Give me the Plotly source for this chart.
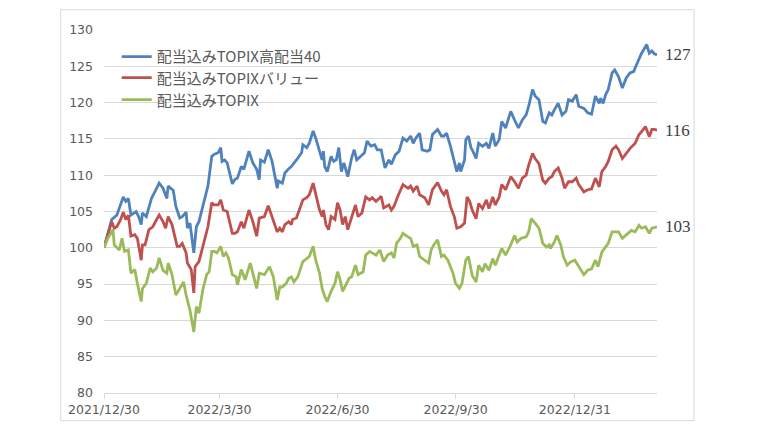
import plotly.graph_objects as go

# x = calendar days since 2021/12/30
tick_days = [0, 90, 182, 274, 367]
tick_labels = ["2021/12/30", "2022/3/30", "2022/6/30", "2022/9/30", "2022/12/31"]

series_names = ["配当込みTOPIX高配当40", "配当込みTOPIXバリュー", "配当込みTOPIX"]
series_colors = ["#4F81BD", "#C0504D", "#9BBB59"]

blue_days = [0,6,10,12,15,17,19,21,23,25,27,29,30,33,37,39,43,46,49,50,54,56,59,61,64,65,67,70,72,74,77,81,84,86,89,91,92,94,96,100,102,104,107,109,113,116,119,121,122,125,128,131,135,136,139,141,144,146,150,152,154,155,158,160,163,165,168,170,171,172,174,177,179,181,183,185,187,190,193,195,197,200,203,205,208,211,213,216,219,222,224,227,230,233,236,239,241,243,246,248,252,254,256,260,263,265,267,270,273,275,277,278,281,282,284,286,287,290,292,295,298,300,303,305,308,310,313,317,320,323,326,329,331,334,336,339,342,344,347,349,351,354,357,360,362,365,368,370,374,377,380,383,386,387,389,391,393,396,398,401,404,407,410,413,414,417,419,423,425,427,429,431]
blue_vals = [100,103.9,104.5,105.5,107.0,106.4,106.8,104.5,104.7,105.0,104.3,103.2,104.8,104.3,106.8,107.5,108.9,108.2,106.8,108.5,107.9,105.7,104.1,104.3,104.9,102.7,103.4,99.3,102.9,103.6,105.7,108.5,112.6,112.9,113.1,113.8,111.9,112.1,111.7,108.8,109.4,109.6,111.2,110.8,113.3,111.7,110.8,109.4,112.1,111.8,113.5,111.9,108.2,109.2,108.9,110.3,110.9,111.2,112.1,112.6,113.1,114.2,113.8,114.4,116.1,115.1,113.3,112.1,113.3,111.2,110.5,112.6,111.9,112.1,113.8,110.5,111.7,109.8,112.4,113.5,112.1,112.6,113.1,114.7,114.0,114.2,113.5,113.5,111.0,112.1,111.5,112.8,113.3,115.1,114.7,115.4,114.4,115.1,115.8,113.5,113.3,113.5,115.6,116.3,115.4,115.4,115.8,114.0,112.1,110.5,111.7,110.5,112.1,114.9,115.4,113.8,113.5,112.3,114.4,114.0,114.4,113.7,115.8,114.0,114.9,117.4,116.5,118.8,117.6,116.5,117.6,118.3,119.5,121.8,120.9,120.4,117.4,117.2,118.6,118.3,119.0,119.9,118.3,118.8,120.4,120.2,121.1,119.5,119.2,118.6,118.4,120.9,119.9,120.6,119.9,121.1,121.8,124.1,124.5,123.6,122.0,123.4,124.1,124.3,124.8,125.9,126.8,128.0,126.8,127.1,126.7,126.6]

red_days = [0,6,8,10,13,15,17,19,21,24,26,27,29,30,32,35,38,41,43,46,48,50,53,57,59,61,64,65,68,70,71,74,77,81,84,86,89,91,93,96,100,102,104,107,109,113,116,119,121,125,128,131,135,137,139,141,144,146,147,150,152,155,158,160,163,165,168,170,171,173,175,177,180,182,184,186,188,190,193,196,198,201,204,207,209,212,215,216,218,222,224,226,229,231,233,237,239,241,244,246,250,253,256,260,263,265,267,270,273,275,278,281,283,285,287,290,292,295,298,300,303,305,308,310,313,317,320,323,326,329,331,334,336,339,342,344,347,349,351,354,357,359,362,365,368,370,374,377,380,383,386,388,391,393,396,399,401,404,408,410,414,417,419,422,425,427,429,431]
red_vals = [100,103.6,102.7,102.9,103.9,104.9,103.9,104.5,101.6,101.8,101.3,100.1,98.3,100.4,100.4,102.5,102.9,103.9,104.5,103.6,102.7,104.3,103.2,100.2,100.2,100.6,99.3,97.9,97.0,93.8,97.4,98.1,100.1,102.9,106.2,105.9,105.9,106.6,105.2,105.0,102.0,102.0,102.2,103.6,102.7,105.2,103.6,101.6,104.1,104.3,105.8,104.3,102.2,102.7,102.2,103.2,103.6,103.2,103.9,104.1,105.0,106.6,106.9,107.3,108.9,107.5,105.2,104.3,105.2,103.2,102.5,104.3,103.9,106.2,105.2,103.2,104.3,102.5,104.3,105.9,104.3,104.8,107.0,106.6,106.9,106.4,106.9,107.1,105.5,105.9,105.2,105.7,107.1,107.8,108.7,108.2,108.5,107.8,108.5,107.3,106.9,105.9,108.0,109.0,107.8,107.3,108.0,105.7,104.3,102.7,102.9,103.4,107.0,106.4,105.2,104.0,106.1,105.4,106.6,105.4,107.0,105.9,107.0,108.7,108.0,109.8,109.1,108.2,109.6,110.0,111.4,113.0,112.3,111.6,109.3,108.9,109.6,109.8,110.5,111.0,109.6,108.2,109.1,109.1,109.6,108.7,107.7,108.0,108.1,109.6,108.4,110.5,111.2,111.9,113.5,114.0,113.5,112.3,113.3,113.7,114.4,115.6,116.0,116.7,115.3,116.3,116.3,116.2]

green_days = [0,3,7,8,12,14,16,19,21,24,26,29,30,33,36,38,41,43,46,49,50,53,56,59,62,64,67,70,72,74,77,80,82,84,86,88,91,93,95,97,100,103,104,107,110,114,117,119,121,125,129,132,135,137,139,141,142,144,146,148,151,155,158,160,163,165,168,170,172,174,177,180,182,184,186,189,191,193,196,198,202,204,207,209,212,215,218,221,224,226,228,231,233,236,239,241,244,246,250,253,255,257,260,263,265,268,272,274,277,279,282,284,287,290,292,295,297,300,303,305,308,310,313,317,320,322,325,329,331,333,336,339,342,345,347,348,351,353,356,358,361,364,367,370,374,377,380,383,385,388,391,393,396,399,401,404,408,411,414,417,419,422,425,427,431]
green_vals = [100,101.3,102.5,100.4,99.7,101.3,99.5,99.7,96.5,97.0,95.1,92.6,94.4,95.1,97.2,96.7,97.2,98.6,96.9,96.5,97.9,96.3,93.5,94.4,95.3,93.5,91.4,88.4,91.9,91.0,94.2,96.3,96.7,99.5,99.5,99.3,100.2,98.8,99.3,98.6,96.3,96.0,94.9,97.0,95.6,97.9,96.0,94.4,96.5,96.3,97.4,96.0,92.8,94.6,94.6,95.0,95.1,95.8,96.0,95.3,96.0,98.1,98.6,98.8,100.2,98.3,96.5,94.4,93.3,92.6,94.0,95.1,96.7,95.6,94.0,95.1,95.8,96.0,97.6,96.3,96.7,99.0,99.5,99.3,99.0,99.7,98.1,99.0,99.3,98.6,100.6,101.3,102.0,101.6,101.3,100.2,100.4,98.8,98.3,97.9,99.7,100.4,101.1,98.8,99.0,98.3,96.5,95.1,94.4,95.1,98.3,98.8,96.2,95.3,97.6,96.7,97.8,96.9,98.5,97.6,99.0,99.9,99.0,100.4,101.7,100.8,101.3,101.5,102.2,104.0,103.4,102.7,100.6,100.1,100.4,99.9,100.8,101.7,100.4,98.8,97.6,98.1,98.3,97.4,96.3,96.9,97.1,98.3,97.4,99.4,100.1,100.6,102.2,102.2,102.2,101.3,102.0,102.4,102.2,103.1,102.7,102.9,102.0,102.7,102.9]

all_days = [blue_days, red_days, green_days]
all_vals = [blue_vals, red_vals, green_vals]
for d, v in zip(all_days, all_vals):
    assert len(d) == len(v), (len(d), len(v))

legend_ids = ["legend", "legend2", "legend3"]
legend_tops = [0.9714, 0.9135, 0.8529]

fig = go.Figure()
for name, color, d, v, lid in zip(series_names, series_colors, all_days, all_vals, legend_ids):
    fig.add_trace(go.Scatter(x=d, y=v, mode="lines", name=name, legend=lid,
                             line=dict(color=color, width=2.8)))
    fig.add_annotation(x=d[-1], y=v[-1], text=f"{round(v[-1])}", showarrow=False,
                       xanchor="left", yanchor="middle", xshift=6,
                       font=dict(family="Liberation Serif", size=17, color="#404040"))

# outer chart border
fig.add_shape(type="rect", xref="paper", yref="paper",
              x0=-0.0783, x1=1.067, y0=-0.0763, y1=1.0559,
              line=dict(color="#D9D9D9", width=1), fillcolor="rgba(0,0,0,0)", layer="below")

legend_style = dict(x=0.023, xanchor="left", yanchor="top", bgcolor="rgba(0,0,0,0)",
                    font=dict(family="Noto Sans CJK JP", size=15, color="#595959"))

fig.update_layout(
    width=752, height=433,
    margin=dict(l=96, r=103, t=22, b=48),
    paper_bgcolor="white", plot_bgcolor="white",
    font=dict(family="DejaVu Sans", size=12.5, color="#595959"),
    showlegend=True,
    legend=dict(y=legend_tops[0], **legend_style),
    legend2=dict(y=legend_tops[1], **legend_style),
    legend3=dict(y=legend_tops[2], **legend_style),
    xaxis=dict(range=[0, 431], tickvals=tick_days, ticktext=tick_labels,
               showgrid=False, zeroline=False, showline=True, linecolor="#D9D9D9",
               linewidth=1, ticks="outside", ticklen=5, tickcolor="#D9D9D9"),
    yaxis=dict(range=[80, 130], dtick=5, tick0=80, showgrid=True, gridcolor="#D9D9D9",
               gridwidth=1, zeroline=False, showline=False, ticks="", ticklabelstandoff=10),
)

fig.write_html("out.html")
